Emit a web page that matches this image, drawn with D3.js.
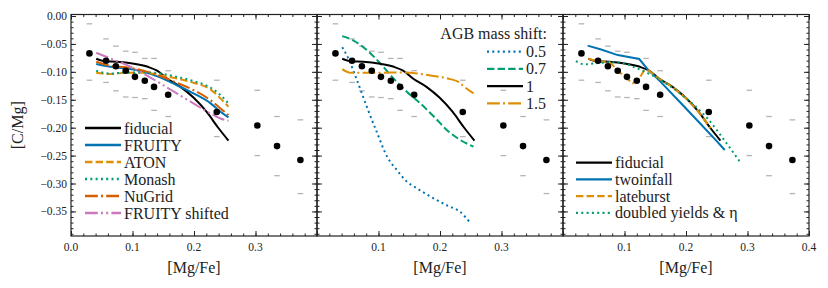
<!DOCTYPE html>
<html>
<head>
<meta charset="utf-8">
<script src="https://cdn.jsdelivr.net/npm/d3@7"></script>
</head>
<body style="margin:0">
<script>
// observed medians and percentile markers
let obsX  = [0.030, 0.057, 0.073, 0.089, 0.104, 0.120, 0.135, 0.158, 0.237, 0.303, 0.335, 0.373];
let obsY  = [-0.067, -0.080, -0.090, -0.098, -0.109, -0.116, -0.127, -0.141, -0.172, -0.196, -0.233, -0.258];
let obsHi = [-0.014, -0.041, -0.054, -0.063, -0.065, -0.076, -0.076, -0.098, -0.115, -0.133, -0.180, -0.186];
let obsLo = [-0.115, -0.119, -0.134, -0.145, -0.146, -0.148, -0.169, -0.180, -0.216, -0.250, -0.286, -0.318];

// model tracks
let fidX = [0.041, 0.055, 0.075, 0.100, 0.125, 0.140, 0.156, 0.178, 0.200, 0.220, 0.240, 0.256];
let fidY = [-0.0765, -0.081, -0.082, -0.085, -0.091, -0.098, -0.112, -0.127, -0.147, -0.171, -0.201, -0.223];

let yieldX = [0.041, 0.064, 0.091, 0.118, 0.145, 0.172, 0.199, 0.2265, 0.243, 0.256];
let fruityY  = [-0.086, -0.091, -0.094, -0.100, -0.110, -0.124, -0.1385, -0.156, -0.1715, -0.1815];
let atonY    = [-0.1015, -0.104, -0.1015, -0.1015, -0.106, -0.112, -0.1195, -0.1315, -0.1475, -0.1625];
let monashY  = [-0.098, -0.103, -0.101, -0.101, -0.103, -0.109, -0.1165, -0.128, -0.1415, -0.1565];
let nugridY  = [-0.082, -0.089, -0.092, -0.098, -0.1075, -0.1195, -0.1326, -0.1505, -0.1655, -0.1775];
let shiftedY = [-0.066, -0.076, -0.088, -0.103, -0.1205, -0.1385, -0.1565, -0.1745, -0.1835, -0.1875];

let m05X = [0.041, 0.051, 0.065, 0.081, 0.098, 0.114, 0.130, 0.1435, 0.163, 0.1855, 0.211, 0.233, 0.249];
let m05Y = [-0.056, -0.076, -0.115, -0.1625, -0.210, -0.252, -0.276, -0.294, -0.309, -0.324, -0.339, -0.351, -0.370];
let m07X = [0.041, 0.0595, 0.081, 0.103, 0.1245, 0.146, 0.168, 0.190, 0.211, 0.233, 0.2545];
let m07Y = [-0.036, -0.044, -0.061, -0.085, -0.112, -0.1355, -0.1565, -0.180, -0.204, -0.222, -0.234];
let m15X = [0.041, 0.054, 0.081, 0.108, 0.135, 0.163, 0.190, 0.217, 0.230, 0.241, 0.2545];
let m15Y = [-0.095, -0.1015, -0.1015, -0.1015, -0.101, -0.103, -0.1075, -0.113, -0.118, -0.128, -0.1385];

let twoX = [0.040, 0.062, 0.089, 0.124, 0.138, 0.158, 0.190, 0.220, 0.250, 0.263];
let twoY = [-0.053, -0.060, -0.070, -0.077, -0.096, -0.117, -0.154, -0.189, -0.224, -0.240];
let lateX = [0.041, 0.055, 0.075, 0.078, 0.097, 0.1135, 0.124, 0.132, 0.140, 0.156, 0.178, 0.200, 0.220, 0.240];
let lateY = [-0.0765, -0.081, -0.082, -0.085, -0.106, -0.1205, -0.112, -0.097, -0.098, -0.112, -0.127, -0.147, -0.171, -0.201];
let dblX = [0.021, 0.035, 0.062, 0.089, 0.121, 0.159, 0.197, 0.235, 0.262, 0.2895];
let dblY = [-0.081, -0.0866, -0.0837, -0.083, -0.094, -0.115, -0.1445, -0.1835, -0.222, -0.264];

// tick labels
let xTicks = [0, 0.1, 0.2, 0.3, 0.4];
let xLabels = [["0.0", "0.1", "0.2", "0.3"], ["0.1", "0.2", "0.3"], ["0.1", "0.2", "0.3", "0.4"]];
let yTicks = [0, -0.05, -0.10, -0.15, -0.20, -0.25, -0.30, -0.35];

// colorblind palette
let col = {blue: "#0173b2", orange: "#de8f05", green: "#029e73", red: "#d55e00", pink: "#cc78bc", black: "#000"};
let lw = 2;
let dash = {
  solid: null,
  dashed: [3.7 * lw, 1.6 * lw],
  dotted: [1 * lw, 1.65 * lw],
  dashdot: [6.4 * lw, 1.6 * lw, 1 * lw, 1.6 * lw],
  dashdotdot: [6.4 * lw, 1.6 * lw, 1 * lw, 1.6 * lw, 1 * lw, 1.6 * lw]
};

let serif = "Liberation Serif";

let panels = [
  {
    series: [
      {x: fidX, y: fidY, c: col.black, d: "solid", name: "fiducial"},
      {x: yieldX, y: fruityY, c: col.blue, d: "solid", name: "FRUITY"},
      {x: yieldX, y: atonY, c: col.orange, d: "dashed", name: "ATON"},
      {x: yieldX, y: monashY, c: col.green, d: "dotted", name: "Monash"},
      {x: yieldX, y: nugridY, c: col.red, d: "dashdot", name: "NuGrid"},
      {x: yieldX, y: shiftedY, c: col.pink, d: "dashdotdot", name: "FRUITY shifted"}
    ],
    legend: {x: 85, y: 128, step: 17}
  },
  {
    series: [
      {x: m05X, y: m05Y, c: col.blue, d: "dotted", name: "0.5"},
      {x: m07X, y: m07Y, c: col.green, d: "dashed", name: "0.7"},
      {x: fidX, y: fidY, c: col.black, d: "solid", name: "1"},
      {x: m15X, y: m15Y, c: col.orange, d: "dashdot", name: "1.5"}
    ],
    legend: {x: 487, y: 51.7, step: 17.2, title: "AGB mass shift:"}
  },
  {
    series: [
      {x: fidX, y: fidY, c: col.black, d: "solid", name: "fiducial"},
      {x: twoX, y: twoY, c: col.blue, d: "solid", name: "twoinfall", linear: true},
      {x: lateX, y: lateY, c: col.orange, d: "dashed", name: "lateburst", linear: true},
      {x: dblX, y: dblY, c: col.green, d: "dotted", name: "doubled yields & \u03b7"}
    ],
    legend: {x: 576, y: 162.7, step: 16.7}
  }
];

let width = 828, height = 288;
let margin = {top: 14.5, left: 71, bottom: 52};
let panelW = 246;
let innerH = height - margin.top - margin.bottom;

let svg = d3.select("body").append("svg")
  .attr("width", width).attr("height", height);

// every text gets its own font attributes
function label(sel, size) {
  return sel.append("text")
    .attr("font-family", serif)
    .attr("font-size", size)
    .attr("fill", "#222");
}

let y = d3.scaleLinear().domain([-0.394, 0.0027]).range([innerH, 0]);

panels.forEach((p, i) => {
  let g = svg.append("g")
    .attr("transform", "translate(" + (margin.left + i * panelW) + "," + margin.top + ")");
  let x = d3.scaleLinear().domain([0, 0.4]).range([0, panelW]);

  // percentile markers
  obsX.forEach((xv, k) => {
    [obsHi[k], obsLo[k]].forEach(v => {
      g.append("line")
        .attr("x1", x(xv) - 2.8).attr("x2", x(xv) + 2.8)
        .attr("y1", y(v)).attr("y2", y(v))
        .attr("stroke", "#b4b4b4").attr("stroke-width", 1.3);
    });
  });

  // model lines
  p.series.forEach(s => {
    let pts = s.x.map((xv, k) => [xv, s.y[k]]);
    g.append("path")
      .datum(pts)
      .attr("fill", "none")
      .attr("stroke", s.c)
      .attr("stroke-width", lw)
      .attr("stroke-dasharray", dash[s.d] ? dash[s.d].join(",") : null)
      .attr("d", d3.line()
        .curve(s.linear ? d3.curveLinear : d3.curveMonotoneX)
        .x(d => x(d[0])).y(d => y(d[1])));
  });

  // observed medians
  g.selectAll(".obs")
    .data(obsX)
    .enter()
    .append("circle")
    .attr("cx", d => x(d))
    .attr("cy", (d, k) => y(obsY[k]))
    .attr("r", 3.3)
    .attr("fill", "#000");

  // ticks inward on all sides, labels drawn by hand below
  let xMinor = d3.range(0, 0.401, 0.02);
  let yMinor = d3.range(-0.39, 0.001, 0.01);

  g.append("g").attr("class", "axis")
    .attr("transform", "translate(0," + innerH + ")")
    .call(d3.axisBottom(x).tickValues(xTicks).tickSize(-5).tickFormat(""));
  g.append("g").attr("class", "axis")
    .attr("transform", "translate(0," + innerH + ")")
    .call(d3.axisBottom(x).tickValues(xMinor).tickSize(-2.5).tickFormat(""));
  g.append("g").attr("class", "axis")
    .call(d3.axisTop(x).tickValues(xTicks).tickSize(-5).tickFormat(""));
  g.append("g").attr("class", "axis")
    .call(d3.axisTop(x).tickValues(xMinor).tickSize(-2.5).tickFormat(""));
  g.append("g").attr("class", "axis")
    .call(d3.axisLeft(y).tickValues(yTicks).tickSize(-5).tickFormat(""));
  g.append("g").attr("class", "axis")
    .call(d3.axisLeft(y).tickValues(yMinor).tickSize(-2.5).tickFormat(""));
  g.append("g").attr("class", "axis")
    .attr("transform", "translate(" + panelW + ",0)")
    .call(d3.axisRight(y).tickValues(yTicks).tickSize(-5).tickFormat(""));
  g.append("g").attr("class", "axis")
    .attr("transform", "translate(" + panelW + ",0)")
    .call(d3.axisRight(y).tickValues(yMinor).tickSize(-2.5).tickFormat(""));

  g.selectAll(".axis .domain").remove();
  g.selectAll(".axis .tick line").attr("stroke", "#222").attr("stroke-width", 1);
  g.selectAll(".axis .tick text").remove();

  // tick labels
  xLabels[i].forEach(t => {
    label(g, 11.5).attr("x", x(+t)).attr("y", innerH + 15)
      .attr("text-anchor", "middle").text(t);
  });
  if (i === 0) {
    yTicks.forEach(t => {
      label(g, 11.5).attr("x", -4).attr("y", y(t) + 4)
        .attr("text-anchor", "end").text(d3.format(".2f")(t));
    });
  }

  // frame
  g.append("rect")
    .attr("width", panelW).attr("height", innerH)
    .attr("fill", "none").attr("stroke", "#222").attr("stroke-width", 1.2);

  // x label
  label(g, 16).attr("x", panelW / 2).attr("y", innerH + 37)
    .attr("text-anchor", "middle").text("[Mg/Fe]");

  // legend
  let L = p.legend;
  if (L.title) {
    label(svg, 16).attr("x", 547).attr("y", 39)
      .attr("text-anchor", "end").text(L.title);
  }
  p.series.forEach((s, k) => {
    let yy = L.y + k * L.step;
    svg.append("line")
      .attr("x1", L.x).attr("x2", L.x + 36)
      .attr("y1", yy).attr("y2", yy)
      .attr("stroke", s.c).attr("stroke-width", 2.3)
      .attr("stroke-dasharray", dash[s.d] ? dash[s.d].join(",") : null);
    label(svg, 16).attr("x", L.x + 39).attr("y", yy + 5.5).text(s.name);
  });
});

// y label
label(svg, 16)
  .attr("transform", "translate(23," + (margin.top + innerH / 2) + ") rotate(-90)")
  .attr("text-anchor", "middle")
  .text("[C/Mg]");
</script>
</body>
</html>
